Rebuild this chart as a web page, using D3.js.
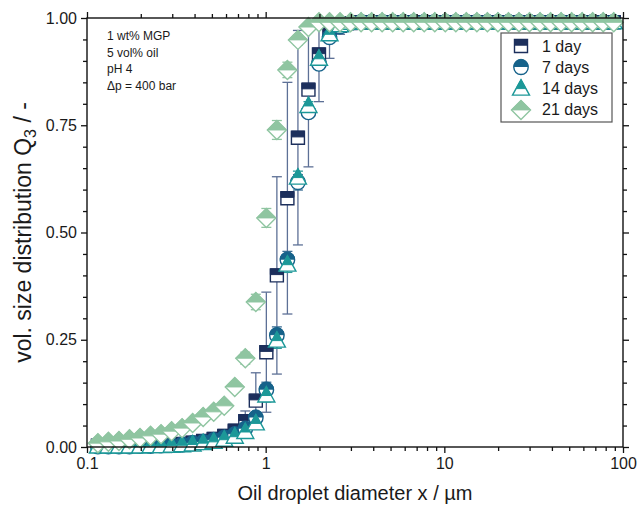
<!DOCTYPE html>
<html>
<head>
<meta charset="utf-8">
<script src="https://cdn.jsdelivr.net/npm/d3@7"></script>
<style>
  html, body { margin: 0; padding: 0; background: #fff; }
  svg { display: block; }
  text { font-family: "Liberation Sans", Arial, sans-serif; fill: #1a1a1a; }
</style>
</head>
<body>
<svg id="chart" width="640" height="515"></svg>
<script>
// ---------- DATA ----------
const sizes = [0.1151, 0.1318, 0.1510, 0.1729, 0.1980, 0.2268, 0.2597, 0.2975, 0.3407, 0.3902,
  0.4469, 0.5119, 0.5863, 0.6715, 0.7691, 0.8808, 1.0088, 1.1554, 1.3233, 1.5156,
  1.7358, 1.9880, 2.2769, 2.6077, 2.9866, 3.4206, 3.9175, 4.4867, 5.1386, 5.8853,
  6.7404, 7.7198, 8.8415, 10.126, 11.597, 13.282, 15.212, 17.422, 19.954, 22.853,
  26.174, 29.977, 34.332, 39.321, 45.034, 51.577, 59.071, 67.654, 77.484, 88.742];

const seriesNames = ["1 day", "7 days", "14 days", "21 days"];

const q3Day1 = [0.003, 0.003, 0.003, 0.003, 0.003, 0.004, 0.004, 0.005, 0.007, 0.010,
  0.014, 0.019, 0.026, 0.038, 0.060, 0.108, 0.221, 0.400, 0.580, 0.721,
  0.833, 0.915, 0.962, 0.982, 0.988, 0.990, 0.990, 0.990, 0.990, 0.990,
  0.990, 0.990, 0.990, 0.990, 0.990, 0.990, 0.990, 0.990, 0.990, 0.990,
  0.990, 0.990, 0.990, 0.990, 0.990, 0.990, 0.990, 0.990, 0.990, 0.990];
const errDay1 = [0, 0, 0, 0, 0, 0, 0, 0, 0, 0,
  0, 0, 0.005, 0.010, 0.024, 0.065, 0.140, 0.230, 0.270, 0.250,
  0.180, 0.110, 0.056, 0.020, 0.010, 0, 0, 0, 0, 0,
  0, 0, 0, 0, 0, 0, 0, 0, 0, 0,
  0, 0, 0, 0, 0, 0, 0, 0, 0, 0];

const q3Day7 = [0.001, 0.001, 0.001, 0.001, 0.002, 0.002, 0.003, 0.004, 0.005, 0.008,
  0.011, 0.015, 0.021, 0.029, 0.042, 0.068, 0.133, 0.260, 0.436, 0.617,
  0.780, 0.893, 0.955, 0.980, 0.988, 0.990, 0.990, 0.990, 0.990, 0.990,
  0.990, 0.990, 0.990, 0.990, 0.990, 0.990, 0.990, 0.990, 0.990, 0.990,
  0.990, 0.990, 0.990, 0.990, 0.990, 0.990, 0.990, 0.990, 0.990, 0.990];
const errDay7 = [0, 0, 0, 0, 0, 0, 0, 0, 0, 0,
  0, 0, 0, 0.005, 0.008, 0.012, 0.018, 0.020, 0.020, 0.018,
  0.012, 0.008, 0.004, 0, 0, 0, 0, 0, 0, 0,
  0, 0, 0, 0, 0, 0, 0, 0, 0, 0,
  0, 0, 0, 0, 0, 0, 0, 0, 0, 0];

const q3Day14 = [0.001, 0.001, 0.001, 0.001, 0.001, 0.002, 0.002, 0.003, 0.004, 0.006,
  0.009, 0.012, 0.017, 0.024, 0.035, 0.055, 0.120, 0.248, 0.425, 0.628,
  0.795, 0.905, 0.962, 0.983, 0.989, 0.990, 0.990, 0.990, 0.990, 0.990,
  0.990, 0.990, 0.990, 0.990, 0.990, 0.990, 0.990, 0.990, 0.990, 0.990,
  0.990, 0.990, 0.990, 0.990, 0.990, 0.990, 0.990, 0.990, 0.990, 0.990];
const errDay14 = [0, 0, 0, 0, 0, 0, 0, 0, 0, 0,
  0, 0, 0, 0.004, 0.006, 0.010, 0.015, 0.018, 0.018, 0.015,
  0.010, 0.006, 0.003, 0, 0, 0, 0, 0, 0, 0,
  0, 0, 0, 0, 0, 0, 0, 0, 0, 0,
  0, 0, 0, 0, 0, 0, 0, 0, 0, 0];

const q3Day21 = [0.009, 0.012, 0.014, 0.018, 0.021, 0.026, 0.030, 0.037, 0.044, 0.056,
  0.070, 0.082, 0.096, 0.140, 0.207, 0.338, 0.534, 0.739, 0.879, 0.949,
  0.979, 0.990, 0.990, 0.990, 0.990, 0.990, 0.990, 0.990, 0.990, 0.990,
  0.990, 0.990, 0.990, 0.990, 0.990, 0.990, 0.990, 0.990, 0.990, 0.990,
  0.990, 0.990, 0.990, 0.990, 0.990, 0.990, 0.990, 0.990, 0.990, 0.990];
const errDay21 = [0, 0, 0, 0, 0, 0, 0, 0, 0, 0,
  0, 0, 0, 0.010, 0.014, 0.018, 0.022, 0.022, 0.018, 0.012,
  0.006, 0, 0, 0, 0, 0, 0, 0, 0, 0,
  0, 0, 0, 0, 0, 0, 0, 0, 0, 0,
  0, 0, 0, 0, 0, 0, 0, 0, 0, 0];

const xTickValues = [0.1, 1, 10, 100];
const xTickLabels = ["0.1", "1", "10", "100"];
const yTickValues = [0, 0.25, 0.5, 0.75, 1.0];
const yTickLabels = ["0.00", "0.25", "0.50", "0.75", "1.00"];
const annotationLines = ["1 wt% MGP", "5 vol% oil", "pH 4", "\u0394p = 400 bar"];

// ---------- STYLE ----------
const series = [
  { name: seriesNames[0], values: q3Day1,  err: errDay1,  shape: "square",   color: "#1c2f5c", errColor: "#5d7096" },
  { name: seriesNames[1], values: q3Day7,  err: errDay7,  shape: "circle",   color: "#16628a", errColor: "#3d6f95" },
  { name: seriesNames[2], values: q3Day14, err: errDay14, shape: "triangle", color: "#1c9898", errColor: "#2c9b9b" },
  { name: seriesNames[3], values: q3Day21, err: errDay21, shape: "diamond",  color: "#8fc5a1", errColor: "#8fc5a1" }
];

const svg = d3.select("#chart");
const pLeft = 87, pRight = 623, pTop = 18, pBottom = 447;

const x = d3.scaleLog().domain([0.1, 100]).range([pLeft, pRight]);
const y = d3.scaleLinear().domain([0, 1]).range([pBottom, pTop]);

svg.append("defs").append("clipPath").attr("id", "plotClip")
  .append("rect").attr("x", pLeft).attr("y", pTop).attr("width", pRight - pLeft).attr("height", pBottom - pTop);

// marker shapes: outline + filled top part
function shapePaths(shape) {
  if (shape === "square") {
    const s = 6.5;
    return { outline: `M${-s},${-s}H${s}V${s}H${-s}Z`, fill: `M${-s},${-s}H${s}V-0.8H${-s}Z` };
  }
  if (shape === "circle") {
    const r = 7.2;
    return { outline: `M${-r},0A${r},${r} 0 1 1 ${r},0A${r},${r} 0 1 1 ${-r},0Z`,
             fill: `M${-r},-0.8A${r},${r} 0 0 1 ${r},-0.8Z` };
  }
  if (shape === "triangle") {
    const h1 = 9, h2 = 6.5, w = 8.5;
    const f = (0 + h1) / (h1 + h2);
    return { outline: `M0,${-h1}L${w},${h2}L${-w},${h2}Z`,
             fill: `M0,${-h1}L${w * f},0L${-w * f},0Z` };
  }
  const d = 9.5;
  return { outline: `M0,${-d}L${d},0L0,${d}L${-d},0Z`, fill: `M0,${-d}L${d},0L${-d},0Z` };
}

function drawMarker(g, shape, color) {
  const p = shapePaths(shape);
  g.append("path").attr("d", p.outline).attr("fill", "#fff").attr("stroke", color).attr("stroke-width", 1.4);
  g.append("path").attr("d", p.fill).attr("fill", color).attr("stroke", color).attr("stroke-width", 1.0);
}

// ---------- ERROR BARS ----------
const errG = svg.append("g").attr("clip-path", "url(#plotClip)");
series.forEach(s => {
  s.values.forEach((v, i) => {
    const e = s.err[i];
    if (!e) return;
    const cx = x(sizes[i]);
    const y1 = y(v + e), y2 = y(v - e);
    errG.append("line").attr("x1", cx).attr("x2", cx).attr("y1", y1).attr("y2", y2)
      .attr("stroke", s.errColor).attr("stroke-width", 1.3);
    [y1, y2].forEach(yy => errG.append("line").attr("x1", cx - 5).attr("x2", cx + 5)
      .attr("y1", yy).attr("y2", yy).attr("stroke", s.errColor).attr("stroke-width", 1.3));
  });
});

// ---------- MARKERS ----------
series.forEach(s => {
  const g = svg.append("g");
  s.values.forEach((v, i) => {
    const m = g.append("g").attr("transform", `translate(${x(sizes[i])},${y(v)})`);
    drawMarker(m, s.shape, s.color);
  });
});

// ---------- AXES ----------
const minorX = [];
[0.1, 1, 10].forEach(d => { for (let k = 2; k <= 9; k++) minorX.push(d * k); });
const minorY = d3.range(0, 1.0001, 0.05).filter(v => Math.abs(v / 0.25 - Math.round(v / 0.25)) > 1e-6);

const axisG = svg.append("g");
axisG.append("rect").attr("x", pLeft).attr("y", pTop).attr("width", pRight - pLeft).attr("height", pBottom - pTop)
  .attr("fill", "none").attr("stroke", "#111").attr("stroke-width", 1.4);

const xAxis = d3.axisBottom(x).tickValues(xTickValues).tickFormat((d, i) => xTickLabels[i]).tickSize(6).tickSizeOuter(0).tickPadding(5);
axisG.append("g").attr("transform", `translate(0,${pBottom})`).call(xAxis);
axisG.append("g").attr("transform", `translate(0,${pBottom})`)
  .call(d3.axisBottom(x).tickValues(minorX).tickFormat("").tickSize(4).tickSizeOuter(0));
axisG.append("g").attr("transform", `translate(0,${pTop})`)
  .call(d3.axisTop(x).tickValues(xTickValues).tickFormat("").tickSize(6).tickSizeOuter(0));
axisG.append("g").attr("transform", `translate(0,${pTop})`)
  .call(d3.axisTop(x).tickValues(minorX).tickFormat("").tickSize(4).tickSizeOuter(0));
const yAxis = d3.axisLeft(y).tickValues(yTickValues).tickFormat((d, i) => yTickLabels[i]).tickSize(6).tickSizeOuter(0).tickPadding(4);
axisG.append("g").attr("transform", `translate(${pLeft},0)`).call(yAxis);
axisG.append("g").attr("transform", `translate(${pLeft},0)`)
  .call(d3.axisLeft(y).tickValues(minorY).tickFormat("").tickSize(4).tickSizeOuter(0));
axisG.append("g").attr("transform", `translate(${pRight},0)`)
  .call(d3.axisRight(y).tickValues(yTickValues).tickFormat("").tickSize(6).tickSizeOuter(0));
axisG.append("g").attr("transform", `translate(${pRight},0)`)
  .call(d3.axisRight(y).tickValues(minorY).tickFormat("").tickSize(4).tickSizeOuter(0));

axisG.selectAll(".domain").remove();
axisG.selectAll(".tick line").attr("stroke", "#111").attr("stroke-width", 1.3);
axisG.selectAll(".tick text").attr("font-size", 16).attr("font-family", "Liberation Sans, Arial, sans-serif").attr("fill", "#1a1a1a");

// ---------- AXIS TITLES ----------
svg.append("text").attr("x", (pLeft + pRight) / 2).attr("y", 500).attr("text-anchor", "middle")
  .attr("font-size", 20).text("Oil droplet diameter x / \u00b5m");

const yt = svg.append("text").attr("transform", `translate(31,${(pTop + pBottom) / 2}) rotate(-90)`)
  .attr("text-anchor", "middle").attr("font-size", 23);
yt.append("tspan").text("vol. size distribution Q");
yt.append("tspan").attr("font-size", 16).attr("dy", 5).text("3");
yt.append("tspan").attr("dy", -5).text(" / -");

// ---------- ANNOTATION ----------
annotationLines.forEach((t, i) => {
  svg.append("text").attr("x", 107).attr("y", 40 + i * 16.6).attr("font-size", 12).text(t);
});

// ---------- LEGEND ----------
const lg = svg.append("g");
lg.append("rect").attr("x", 501).attr("y", 33).attr("width", 111).attr("height", 89)
  .attr("fill", "#fff").attr("stroke", "#555").attr("stroke-width", 1.2);
series.forEach((s, i) => {
  const yy = 46 + i * 21.3;
  const m = lg.append("g").attr("transform", `translate(521,${yy})`);
  drawMarker(m, s.shape, s.color);
  lg.append("text").attr("x", 542).attr("y", yy + 5.5).attr("font-size", 16).text(s.name);
});
</script>
</body>
</html>
